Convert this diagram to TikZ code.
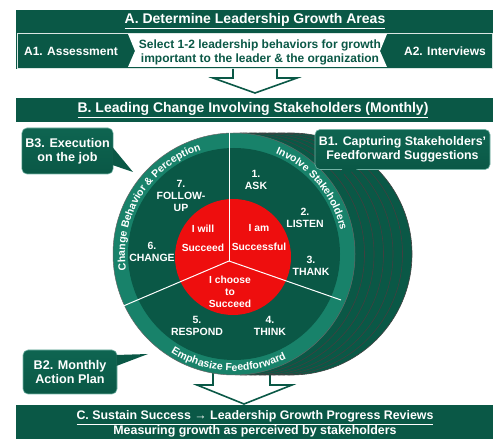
\documentclass[tikz,border=0pt]{standalone}
\usepackage{fontspec}
\setmainfont{Liberation Sans}
\usetikzlibrary{positioning, calc, decorations.text}

\definecolor{dkgreen}{RGB}{10,88,70}
\definecolor{ringgreen}{RGB}{24,130,106}
\definecolor{corered}{RGB}{238,14,14}

\tikzset{
    bandtext/.style={text=white, align=center, font=\bfseries\fontsize{14}{16}\selectfont},
    rowtext/.style={text=white, font=\bfseries\fontsize{12}{14}\selectfont},
    callout/.style={top color=dkgreen!70!ringgreen, bottom color=dkgreen, draw=ringgreen!60!white,
        line width=0.6pt, rounded corners=5pt, text=white, align=center,
        font=\bfseries\fontsize{12.6}{14}\selectfont},
    steplabel/.style={text=white, align=center, font=\bfseries\fontsize{10.5}{12}\selectfont},
    redlabel/.style={text=white, align=center, font=\bfseries\fontsize{10.3}{12}\selectfont},
    hollowarrow/.style={fill=white, draw=dkgreen, line width=1.6pt, line join=miter},
    ringtext/.style={decorate, decoration={text along path, text align=center, text color=white}},
}

\begin{document}
\begin{tikzpicture}[x=1pt, y=1pt]
    \useasboundingbox (0,0) rectangle (493,439);

    % A: determine growth areas
    \fill[dkgreen] (16,370) rectangle (493,429);
    \node[bandtext] (atitle) at (255,418) {\underline{A. Determine Leadership Growth Areas}};
    \draw[white!85!dkgreen, line width=0.8pt] (17,406) rectangle (492,371);
    \fill[white] (128,405) -- (387,405) -- (380,388) -- (387,372) -- (128,372) -- (135,388) -- cycle;
    \node[rowtext] (aone) at (71,388) {A1. Assessment};
    \node[rowtext] (atwo) at (445,388) {A2. Interviews};
    \node[text=dkgreen, align=center, font=\bfseries\fontsize{12}{14}\selectfont] (select) at (260,387)
        {Select 1-2 leadership behaviors for growth\\important to the leader \& the organization};

    % hollow arrow A -> B
    \draw[hollowarrow] (233,370) -- (233,361) -- (213,361) -- (255,346) -- (297,361) -- (277,361) -- (277,370);

    % B: leading change
    \fill[dkgreen] (16,317) rectangle (493,341);
    \node[bandtext] (btitle) at (253,329) {\underline{B. Leading Change Involving Stakeholders (Monthly)}};

    % hollow arrow B -> C (behind the circles)
    \draw[hollowarrow] (213,74) -- (213,54) -- (197,54) -- (244,35) -- (292,54) -- (270,54) -- (270,74);

    % the wheel
    \coordinate (ctr) at (234,185);
    \coordinate (hub) at (229,178);
    \foreach \k in {6,5,...,1}
        \filldraw[fill=dkgreen, draw=black!75, line width=0.6pt] ($(ctr)+(9.5*\k,0)$) circle (121);
    \filldraw[fill=ringgreen, draw=black!60, line width=0.5pt] (ctr) circle (121);
    \fill[dkgreen] (ctr) circle (106);
    \fill[corered] (233,182) circle (58);

    % dividers
    \coordinate (dtop) at (229,307);
    \coordinate (dright) at (341,139);
    \coordinate (dleft) at (121,132);
    \foreach \d in {dtop, dright, dleft}
        \draw[white, line width=1pt] (hub) -- (\d);

    % text on the ring
    \path[ringtext, decoration={text={|\bfseries\fontsize{10.5}{10}\selectfont|Change Behavior {\&} Perception}}]
        ($(ctr)+(200:109)$) arc[start angle=200, end angle=96, radius=109];
    \path[ringtext, decoration={text={|\bfseries\fontsize{10.5}{10}\selectfont|Involve Stakeholders}}]
        ($(ctr)+(82:109)$) arc[start angle=82, end angle=-2, radius=109];
    \path[ringtext, decoration={text={|\bfseries\fontsize{10.5}{10}\selectfont|Emphasize Feedforward}}]
        ($(ctr)+(225:117)$) arc[start angle=225, end angle=309, radius=117];

    % steps
    \node[steplabel] (ask) at (256,259) {1.\\ASK};
    \node[steplabel] (listen) at (305,221) {2.\\LISTEN};
    \node[steplabel] (thank) at (311,173) {3.\\THANK};
    \node[steplabel] (think) at (270,113) {4.\\THINK};
    \node[steplabel] (respond) at (197,113) {5.\\RESPOND};
    \node[steplabel] (change) at (152,187) {6.\\CHANGE};
    \node[steplabel] (followup) at (181,243) {7.\\FOLLOW-\\UP};

    % core
    \node[redlabel] (iwill) at (203,201) {I will\\[7pt]Succeed};
    \node[redlabel] (iam) at (259,201) {I am\\[7pt]Successful};
    \node[redlabel] (ichoose) at (230,147) {I choose\\to\\Succeed};

    % callouts
    \node[callout, minimum width=91, minimum height=46] (bthree) at (67.5,288) {B3. Execution\\on the job};
    \coordinate (bthreetip) at (133,267);
    \fill[dkgreen] ($(bthree.east)+(-1,4)$) -- (bthreetip) -- ($(bthree.east)+(-1,-14)$) -- cycle;

    \node[callout, font=\bfseries\fontsize{12.4}{14}\selectfont, minimum width=175, minimum height=40] (bone)
        at (402.5,289.5) {B1. Capturing Stakeholders'\\Feedforward Suggestions};
    \coordinate (bonetip) at (339,263);
    \fill[dkgreen] ($(bone.south)+(-60,1)$) -- (bonetip) -- ($(bone.south)+(-44,1)$) -- cycle;

    \node[callout, minimum width=94, minimum height=44] (btwo) at (70,67) {B2. Monthly\\Action Plan};
    \coordinate (btwotip) at (148,85);
    \fill[dkgreen] ($(btwo.east)+(-1,17)$) -- (btwotip) -- ($(btwo.east)+(-1,6)$) -- cycle;

    % C: sustain success
    \fill[dkgreen] (16,0) rectangle (493,34);
    \node[bandtext, font=\bfseries\fontsize{12.4}{14.5}\selectfont] (ctitle) at (255,15)
        {\underline{C. Sustain Success → Leadership Growth Progress Reviews}\\Measuring growth as perceived by stakeholders};
\end{tikzpicture}
\end{document}
